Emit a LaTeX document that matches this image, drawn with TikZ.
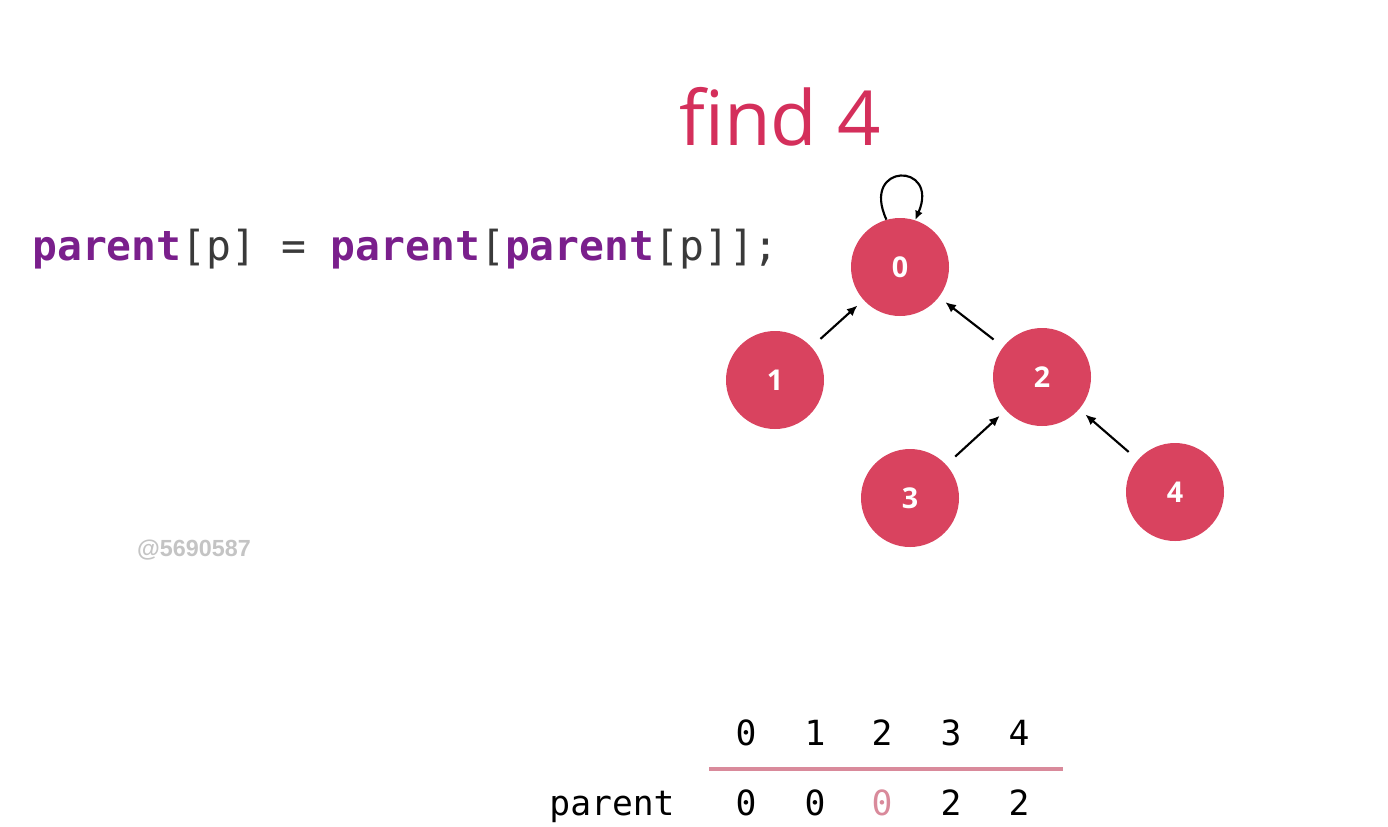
\documentclass[tikz,border=0pt]{standalone}
\usepackage{fontspec}
\setmainfont{Open Sans}
\newfontfamily\codefont{DejaVu Sans Mono}
\newfontfamily\wmfont{Liberation Sans}
\usetikzlibrary{arrows.meta}
\definecolor{nodered}{HTML}{D9435F}
\definecolor{titlered}{HTML}{D42F5B}
\definecolor{codepurple}{HTML}{7A1F8C}
\definecolor{codegray}{HTML}{3A3A3A}
\definecolor{linepink}{HTML}{D98A9B}
\definecolor{wmgray}{HTML}{C4C4C4}
\tikzset{
  treenode/.style={circle, fill=nodered, minimum size=73.5pt, inner sep=0pt,
    text=white, font=\fontsize{21.5pt}{24pt}\selectfont\bfseries},
  edgearrow/.style={-{Latex[length=8pt,width=7pt]}, line width=1.6pt, black,
    shorten <=9pt, shorten >=6pt},
  tabtext/.style={anchor=base, font=\codefont\fontsize{26pt}{30pt}\selectfont, text=black, inner sep=0pt},
}
\begin{document}
\begin{tikzpicture}[x=0.75pt,y=-0.75pt]
\useasboundingbox (0,0) rectangle (1388,826);
% title
\node[anchor=base, text=titlered, font=\fontsize{57pt}{68pt}\selectfont, inner sep=0pt] (title) at (780,145) {find 4};
% code
\node[anchor=base west, inner sep=0pt, font=\codefont\fontsize{31pt}{36pt}\selectfont] (code) at (32,260)
  {{\color{codepurple}\bfseries parent}{\color{codegray}[p] = }{\color{codepurple}\bfseries parent}{\color{codegray}[}{\color{codepurple}\bfseries parent}{\color{codegray}[p]];}};
% watermark
\node[text=wmgray, font=\wmfont\bfseries\fontsize{17.5pt}{20pt}\selectfont, inner sep=0pt] (wm) at (194,550) {@5690587};
% tree
\node[treenode] (n0) at (900,267) {0};
\node[treenode] (n1) at (775,380) {1};
\node[treenode] (n2) at (1042,377) {2};
\node[treenode] (n3) at (910,498) {3};
\node[treenode] (n4) at (1175,492) {4};
\draw[edgearrow] (n1) -- (n0);
\draw[edgearrow] (n2) -- (n0);
\draw[edgearrow] (n3) -- (n2);
\draw[edgearrow] (n4) -- (n2);
\draw[line width=1.6pt, -{Latex[length=7pt,width=6pt]}] (n0.106) .. controls (860,162) and (940,162) .. (n0.72);
% table
\foreach \i/\x in {0/746,1/815,2/882,3/951,4/1019} {
  \node[tabtext] (h\i) at (\x,745) {\i};
}
\draw[linepink, line width=2.4pt] (709,769) coordinate (la) -- (1063,769) coordinate (lb);
\node[tabtext] (plabel) at (612,815) {parent};
\node[tabtext] (v0) at (746,815) {0};
\node[tabtext] (v1) at (815,815) {0};
\node[tabtext, text=linepink] (v2) at (882,815) {0};
\node[tabtext] (v3) at (951,815) {2};
\node[tabtext] (v4) at (1019,815) {2};
\end{tikzpicture}
\end{document}
